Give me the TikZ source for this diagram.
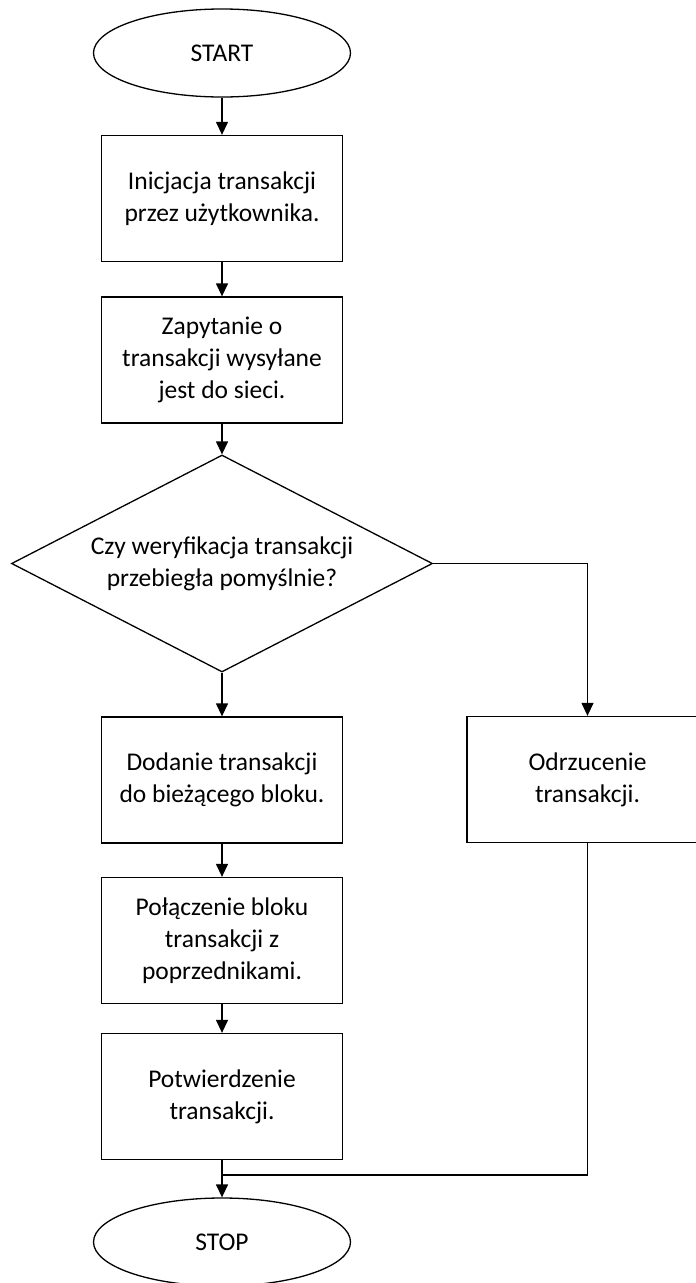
\documentclass[tikz,border=0pt]{standalone}
\usepackage{fontspec}
\setmainfont{Carlito}
\usetikzlibrary{shapes.geometric,arrows.meta}
\begin{document}
\begin{tikzpicture}[x=1pt,y=-1pt,
  every node/.style={font=\fontsize{25.5}{32}\selectfont, align=center, line width=1.3pt, draw=black},
  procbox/.style={rectangle, minimum width=241pt, minimum height=126pt, inner sep=0pt},
  terminal/.style={ellipse, minimum width=257pt, minimum height=88pt, inner sep=0pt},
  decision/.style={diamond, aspect=2, minimum width=421pt, minimum height=217pt, inner sep=0pt},
  arr/.style={line width=1.3pt, -{Triangle[length=13pt,width=12pt]}},
  conn/.style={line width=1.3pt}]
\useasboundingbox (0,0) rectangle (696,1283);
\node[terminal] (start) at (222,53) {START};
\node[procbox] (b1) at (222,198.5) {Inicjacja transakcji\\przez użytkownika.};
\node[procbox] (b2) at (222,360) {Zapytanie o\\transakcji wysyłane\\jest do sieci.};
\node[decision] (dec) at (222,563.5) {Czy weryfikacja transakcji\\przebiegła pomyślnie?};
\node[procbox] (b3) at (222,780) {Dodanie transakcji\\do bieżącego bloku.};
\node[procbox] (b4) at (222,940.5) {Połączenie bloku\\transakcji z\\poprzednikami.};
\node[procbox] (b5) at (222,1096.5) {Potwierdzenie\\transakcji.};
\node[procbox] (rej) at (587.5,779.5) {Odrzucenie\\transakcji.};
\node[terminal] (stop) at (222,1242) {STOP};
\coordinate (merge) at (222,1175);
\draw[arr] (start.south) -- (b1.north);
\draw[arr] (b1.south) -- (b2.north);
\draw[arr] (b2.south) -- (dec.north);
\draw[arr] (dec.south) -- (b3.north);
\draw[arr] (b3.south) -- (b4.north);
\draw[arr] (b4.south) -- (b5.north);
\draw[arr] (b5.south) -- (stop.north);
\draw[arr] (dec.east) -| (rej.north);
\draw[conn] (rej.south) |- (merge);
\end{tikzpicture}
\end{document}
